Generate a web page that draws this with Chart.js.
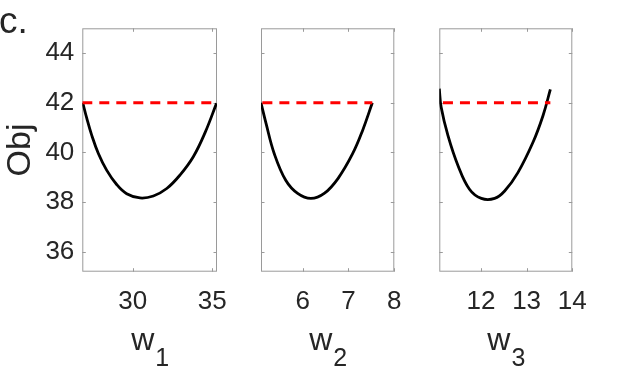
<!DOCTYPE html>
<html>
<head>
<meta charset="utf-8">
<script src="https://cdn.jsdelivr.net/npm/chart.js@4.4.3/dist/chart.umd.min.js"></script>
<style>
  html, body { margin: 0; padding: 0; background: #fff; }
  #wrap { position: relative; width: 634px; height: 373px; overflow: hidden; }
  .panel { position: absolute; top: 0; }
</style>
</head>
<body>
<div id="wrap">
  <div class="panel" style="left:0px"><canvas id="p1" width="230" height="373"></canvas></div>
  <div class="panel" style="left:230px"><canvas id="p2" width="180" height="373"></canvas></div>
  <div class="panel" style="left:410px"><canvas id="p3" width="224" height="373"></canvas></div>
</div>
<script>
// shared y axis (Obj)
const yTicks = [36, 38, 40, 42, 44];
const yRange = [35.2, 45];
const refLevel = 42;

// panel 1: w_1
const w1 = [26.86, 27.11, 27.42, 27.84, 28.36, 28.99, 29.62, 30.46, 31.3, 32.14, 32.97, 33.81, 34.55, 35.27];
const obj1 = [42.0, 41.38, 40.7, 39.96, 39.29, 38.71, 38.34, 38.17, 38.25, 38.55, 39.09, 39.83, 40.8, 41.98];
const w1Range = [26.83, 35.3];
const w1Ticks = [30, 35];
const w1Ref = [26.83, 35.25];

// panel 2: w_2
const w2 = [5.09, 5.2, 5.38, 5.63, 5.89, 6.18, 6.47, 6.77, 7.09, 7.31, 7.52];
const obj2 = [42.0, 41.17, 39.95, 38.88, 38.35, 38.15, 38.35, 38.95, 39.95, 40.9, 42.0];
const w2Range = [5.09, 8];
const w2Ticks = [6, 7, 8];
const w2Ref = [5.12, 7.52];

// panel 3: w_3
const w3 = [11.09, 11.13, 11.28, 11.5, 11.75, 12.01, 12.3, 12.52, 12.81, 13.14, 13.36, 13.52];
const obj3 = [42.57, 41.83, 40.68, 39.47, 38.52, 38.15, 38.15, 38.45, 39.19, 40.41, 41.49, 42.54];
const w3Range = [11.09, 14];
const w3Ticks = [12, 13, 14];
const w3Ref = [11.17, 13.52];

const FONT = "'Liberation Sans', Arial, Helvetica, sans-serif";
const TEXT = "#262626";
const AXIS = "#9a9a9a";

// box around the plot area with short inward ticks on all four sides
const boxPlugin = {
  id: "matlabBox",
  beforeDatasetsDraw(chart) {
    const { ctx, chartArea: a, scales } = chart;
    const len = 3.5;
    ctx.save();
    ctx.strokeStyle = AXIS;
    ctx.lineWidth = 1;
    ctx.strokeRect(a.left + 0.5, a.top + 0.5, a.right - a.left - 1, a.bottom - a.top - 1);
    ctx.beginPath();
    scales.x.ticks.forEach((t) => {
      const px = Math.round(scales.x.getPixelForValue(t.value)) + 0.5;
      ctx.moveTo(px, a.bottom); ctx.lineTo(px, a.bottom - len);
      ctx.moveTo(px, a.top); ctx.lineTo(px, a.top + len);
    });
    scales.y.ticks.forEach((t) => {
      const py = Math.round(scales.y.getPixelForValue(t.value)) + 0.5;
      ctx.moveTo(a.left, py); ctx.lineTo(a.left + len, py);
      ctx.moveTo(a.right, py); ctx.lineTo(a.right - len, py);
    });
    ctx.stroke();
    ctx.restore();
  },
};

// x label with a subscript, plus the optional panel letter
const labelPlugin = {
  id: "axisText",
  afterDraw(chart, args, opts) {
    const { ctx, chartArea: a } = chart;
    ctx.save();
    ctx.fillStyle = TEXT;
    ctx.textBaseline = "alphabetic";
    ctx.textAlign = "left";
    const mainFont = "32px " + FONT;
    const subFont = "25px " + FONT;
    ctx.font = mainFont;
    const wMain = ctx.measureText(opts.main).width;
    ctx.font = subFont;
    const wSub = ctx.measureText(opts.sub).width;
    const x0 = (a.left + a.right) / 2 - (wMain + wSub) / 2;
    ctx.font = mainFont;
    ctx.fillText(opts.main, x0, 350);
    ctx.font = subFont;
    ctx.fillText(opts.sub, x0 + wMain + 1, 366);
    if (opts.corner) {
      ctx.font = "37px " + FONT;
      ctx.fillText(opts.corner, -1, 33);
    }
    ctx.restore();
  },
};

function makePanel(id, xs, ys, xRange, xTicks, refX, cfg) {
  const curve = xs.map((x, i) => ({ x, y: ys[i] }));
  const ref = refX.map((x) => ({ x, y: refLevel }));
  return new Chart(document.getElementById(id), {
    type: "line",
    data: {
      datasets: [
        {
          data: ref,
          borderColor: "#ff0000",
          borderWidth: 3,
          borderDash: [10, 7],
          pointRadius: 0,
        },
        {
          data: curve,
          borderColor: "#000000",
          borderWidth: 2.8,
          pointRadius: 0,
          tension: 0.4,
        },
      ],
    },
    options: {
      responsive: false,
      devicePixelRatio: 1,
      animation: false,
      layout: { padding: { top: 28.3, bottom: 0, left: cfg.padLeft, right: cfg.padRight } },
      plugins: {
        legend: { display: false },
        tooltip: { enabled: false },
        axisText: { main: "w", sub: cfg.sub, corner: cfg.corner },
      },
      scales: {
        x: {
          type: "linear",
          min: xRange[0],
          max: xRange[1],
          afterBuildTicks: (s) => { s.ticks = xTicks.map((v) => ({ value: v })); },
          afterFit: (s) => {
            s.height = 101.3;
            s.paddingLeft = 0;
            s.paddingRight = 0;
          },
          grid: { display: false, drawTicks: false },
          border: { display: false },
          ticks: { color: TEXT, font: { family: FONT, size: 26 }, padding: 15, maxRotation: 0 },
        },
        y: {
          display: cfg.showY,
          min: yRange[0],
          max: yRange[1],
          afterBuildTicks: (s) => { s.ticks = yTicks.map((v) => ({ value: v })); },
          afterFit: (s) => { s.width = cfg.showY ? 82.3 : 0; },
          grid: { display: false, drawTicks: false },
          border: { display: false },
          ticks: { color: TEXT, font: { family: FONT, size: 26 }, padding: 8 },
          title: {
            display: true,
            text: "Obj",
            color: TEXT,
            font: { family: FONT, size: 34 },
            padding: 0,
          },
        },
      },
    },
    plugins: [boxPlugin, labelPlugin],
  });
}

makePanel("p1", w1, obj1, w1Range, w1Ticks, w1Ref, { padLeft: 0, padRight: 13, showY: true, sub: "1", corner: "c." });
makePanel("p2", w2, obj2, w2Range, w2Ticks, w2Ref, { padLeft: 31, padRight: 15.7, showY: false, sub: "2" });
makePanel("p3", w3, obj3, w3Range, w3Ticks, w3Ref, { padLeft: 29.3, padRight: 61.7, showY: false, sub: "3" });
</script>
</body>
</html>
